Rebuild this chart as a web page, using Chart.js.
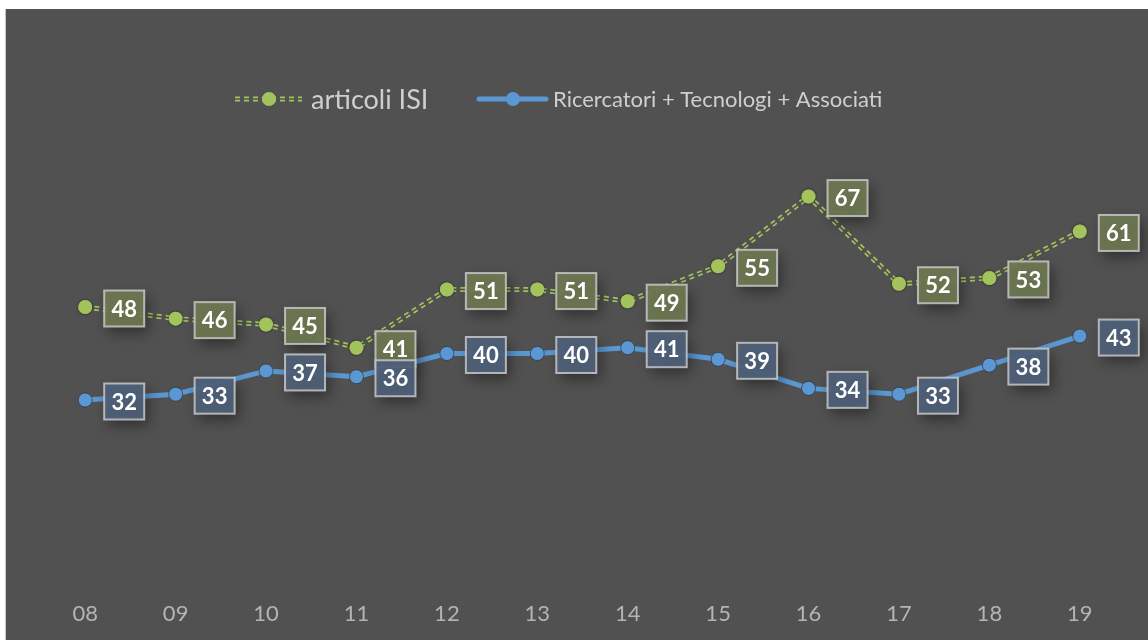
<!DOCTYPE html>
<html><head><meta charset="utf-8">
<script src="https://cdn.jsdelivr.net/npm/chart.js@4"></script>
<style>
html,body{margin:0;padding:0;background:#fff;}
#wrap{position:absolute;left:5px;top:9px;width:1143px;height:631px;background:#515151;border-left:1px solid #c8c8c8;box-sizing:border-box;}
canvas{display:block;}
</style></head><body>
<div id="wrap"><canvas id="c"></canvas></div>
<script>
const years = ['08','09','10','11','12','13','14','15','16','17','18','19'];
const articoliISI = [48,46,45,41,51,51,49,55,67,52,53,61];
const ricercatori = [32,33,37,36,40,40,41,39,34,33,38,43];
const seriesNames = ['articoli ISI','Ricercatori + Tecnologi + Associati'];

const GREEN = '#a3c45c';
const BLUE = '#5b97d2';
const BG = '#515151';
const FONT = 'Lato, "Open Sans", sans-serif';

const doubleLine = {
  id:'doubleLine',
  afterDatasetDraw(chart, args){
    if(args.index!==0) return;
    const meta = chart.getDatasetMeta(0);
    const ctx = chart.ctx;
    ctx.save();
    ctx.strokeStyle = BG;
    ctx.lineWidth = 1.6;
    ctx.beginPath();
    meta.data.forEach((p,i)=>{ if(i===0) ctx.moveTo(p.x,p.y); else ctx.lineTo(p.x,p.y); });
    ctx.stroke();
    meta.data.forEach(p=>{
      ctx.beginPath(); ctx.arc(p.x,p.y,7,0,Math.PI*2);
      ctx.fillStyle=GREEN; ctx.shadowColor='rgba(0,0,0,0.6)'; ctx.shadowBlur=3;
      ctx.fill();
    });
    ctx.restore();
  }
};

const labelBoxes = {
  id:'labelBoxes',
  afterDatasetsDraw(chart){
    const ctx = chart.ctx;
    const fills = ['rgba(110,119,82,0.93)','rgba(78,96,120,0.93)'];
    chart.data.datasets.forEach((ds,di)=>{
      const meta = chart.getDatasetMeta(di);
      meta.data.forEach((p,i)=>{
        const cx = p.x+39, cy = p.y+1.5, w=40, h=36;
        ctx.save();
        ctx.shadowColor='rgba(0,0,0,0.45)'; ctx.shadowBlur=14; ctx.shadowOffsetX=4; ctx.shadowOffsetY=6;
        ctx.fillStyle=fills[di];
        ctx.fillRect(cx-w/2,cy-h/2,w,h);
        ctx.restore();
        ctx.save();
        ctx.strokeStyle='rgba(200,200,200,0.85)'; ctx.lineWidth=2;
        ctx.strokeRect(cx-w/2,cy-h/2,w,h);
        ctx.fillStyle='#ffffff';
        ctx.font='bold 22px '+FONT;
        ctx.textAlign='center'; ctx.textBaseline='middle';
        ctx.fillText(String(ds.data[i]),cx,cy+1);
        ctx.restore();
      });
    });
  }
};

const customLegend = {
  id:'customLegend',
  afterDraw(chart){
    const ctx = chart.ctx;
    const y = 90;
    ctx.save();
    ctx.setLineDash([5,4]);
    ctx.strokeStyle=GREEN; ctx.lineWidth=5;
    ctx.beginPath(); ctx.moveTo(229,y); ctx.lineTo(296,y); ctx.stroke();
    ctx.strokeStyle=BG; ctx.lineWidth=1.6;
    ctx.beginPath(); ctx.moveTo(229,y); ctx.lineTo(296,y); ctx.stroke();
    ctx.setLineDash([]);
    ctx.fillStyle=GREEN; ctx.beginPath(); ctx.arc(263,y,7,0,Math.PI*2); ctx.fill();
    ctx.fillStyle='#cfcfcf'; ctx.font='27px '+FONT; ctx.textBaseline='middle';
    ctx.fillText(seriesNames[0],305,y+1);
    ctx.strokeStyle=BLUE; ctx.lineWidth=5; ctx.lineCap='round';
    ctx.beginPath(); ctx.moveTo(473,y); ctx.lineTo(540,y); ctx.stroke();
    ctx.fillStyle=BLUE; ctx.beginPath(); ctx.arc(507,y,7,0,Math.PI*2); ctx.fill();
    ctx.fillStyle='#cfcfcf'; ctx.font='22px '+FONT;
    ctx.fillText(seriesNames[1],547,y+1);
    ctx.restore();
  }
};

new Chart(document.getElementById('c'),{
  type:'line',
  data:{
    labels:years,
    datasets:[
      {label:seriesNames[0],data:articoliISI,borderColor:GREEN,borderWidth:5,borderDash:[5,4],
       pointRadius:7,pointBackgroundColor:GREEN,pointBorderWidth:0,tension:0,fill:false},
      {label:seriesNames[1],data:ricercatori,borderColor:BLUE,borderWidth:5,
       pointRadius:7,pointBackgroundColor:BLUE,pointBorderColor:'rgba(40,40,40,0.6)',pointBorderWidth:1,tension:0,fill:false}
    ]
  },
  options:{
    responsive:true,maintainAspectRatio:false,animation:false,
    layout:{padding:{left:34,right:23,top:112,bottom:0}},
    plugins:{legend:{display:false},tooltip:{enabled:false}},
    scales:{
      x:{offset:true,grid:{display:false,drawTicks:false},border:{display:false},
         afterFit(s){ s.height = 54; },
         ticks:{color:'#b4b4b4',font:{size:22,family:FONT},padding:15}},
      y:{display:false,min:0,max:80}
    }
  },
  plugins:[doubleLine,labelBoxes,customLegend]
});
</script>
</body></html>
